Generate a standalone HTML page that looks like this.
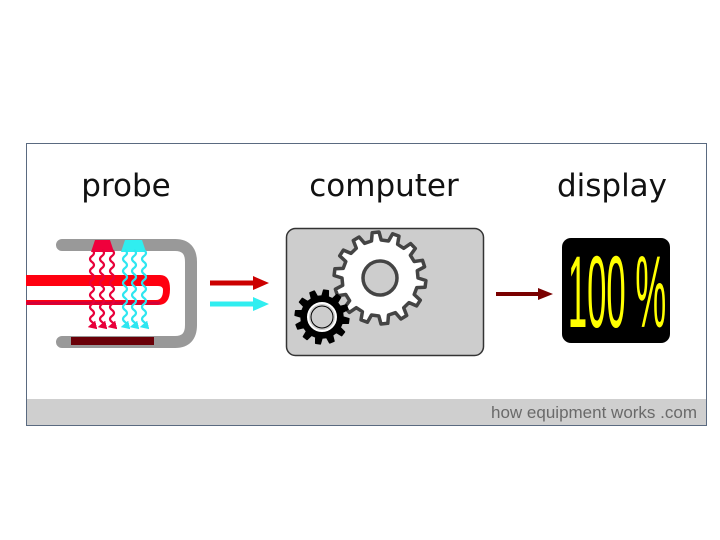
<!DOCTYPE html>
<html><head><style>
html,body{margin:0;padding:0;background:#fff;width:720px;height:540px;overflow:hidden}
</style></head><body>
<svg width="720" height="540" viewBox="0 0 720 540" xmlns="http://www.w3.org/2000/svg">
<defs>
<marker id="ar" markerWidth="4" markerHeight="4" refX="2" refY="2" orient="auto"><path d="M0,0L4,2L0,4z" fill="#e8003a"/></marker>
<marker id="ac" markerWidth="4" markerHeight="4" refX="2" refY="2" orient="auto"><path d="M0,0L4,2L0,4z" fill="#2ee6f0"/></marker>
</defs>
<rect x="26.5" y="143.5" width="680" height="282" fill="#fff" stroke="#5a6a80"/>
<rect x="27" y="399" width="679" height="26" fill="#cfcfcf"/>
<text x="697" y="418" text-anchor="end" font-family="Liberation Sans, sans-serif" font-size="17" fill="#6a6a6a">how equipment works .com</text>
<g font-family="DejaVu Sans, Liberation Sans, sans-serif" font-size="31" fill="#111" text-anchor="middle">
<text x="126" y="196">probe</text><text x="384" y="196">computer</text><text x="612" y="196">display</text></g>
<!-- probe housing -->
<path d="M62,245 H175 Q191,245 191,262 V325 Q191,342 175,342 H62" fill="none" stroke="#999" stroke-width="12" stroke-linecap="round"/>
<rect x="71" y="337" width="83" height="8" fill="#6a0008"/>
<path d="M91,252 l4,-12 h15 l4,12z" fill="#f0003c"/>
<path d="M121,252 l4,-12 h17 l4,12z" fill="#30eef0"/>
<!-- tube -->
<path d="M26,275 H160 Q170,275 170,289 Q170,305 158,305 H26 V300 H156 Q163,300 163,290 Q163,286 158,286 H26z" fill="#ff0010"/>
<path d="M26,303 H160" stroke="#d0003a" stroke-width="3"/>
<g fill="none" stroke-width="2.2">
<g stroke="#e8003a" marker-end="url(#ar)">
<path d="M92,250 q4,3 0,6 q-4,3 0,6 q4,3 0,6 q-4,3 0,6 q4,3 0,6 q-4,3 0,6 q4,3 0,6 q-4,3 0,6 q4,3 0,6 q-4,3 0,6 q4,3 0,6 q-4,3 0,6 q4,3 0,4"/>
<path d="M102,250 q4,3 0,6 q-4,3 0,6 q4,3 0,6 q-4,3 0,6 q4,3 0,6 q-4,3 0,6 q4,3 0,6 q-4,3 0,6 q4,3 0,6 q-4,3 0,6 q4,3 0,6 q-4,3 0,6 q4,3 0,4"/>
<path d="M112,250 q4,3 0,6 q-4,3 0,6 q4,3 0,6 q-4,3 0,6 q4,3 0,6 q-4,3 0,6 q4,3 0,6 q-4,3 0,6 q4,3 0,6 q-4,3 0,6 q4,3 0,6 q-4,3 0,6 q4,3 0,4"/></g>
<g stroke="#2ee6f0" marker-end="url(#ac)">
<path d="M125,250 q4,3 0,6 q-4,3 0,6 q4,3 0,6 q-4,3 0,6 q4,3 0,6 q-4,3 0,6 q4,3 0,6 q-4,3 0,6 q4,3 0,6 q-4,3 0,6 q4,3 0,6 q-4,3 0,6 q4,3 0,4"/>
<path d="M134,250 q4,3 0,6 q-4,3 0,6 q4,3 0,6 q-4,3 0,6 q4,3 0,6 q-4,3 0,6 q4,3 0,6 q-4,3 0,6 q4,3 0,6 q-4,3 0,6 q4,3 0,6 q-4,3 0,6 q4,3 0,4"/>
<path d="M144,250 q4,3 0,6 q-4,3 0,6 q4,3 0,6 q-4,3 0,6 q4,3 0,6 q-4,3 0,6 q4,3 0,6 q-4,3 0,6 q4,3 0,6 q-4,3 0,6 q4,3 0,6 q-4,3 0,6 q4,3 0,4"/></g>
</g>
<!-- arrows -->
<path d="M210,283 H255" stroke="#cc0000" stroke-width="5"/><path d="M253,276 L269,283 L253,290z" fill="#cc0000"/>
<path d="M210,304 H255" stroke="#30eef0" stroke-width="5"/><path d="M253,297 L269,304 L253,311z" fill="#30eef0"/>
<path d="M496,294 H540" stroke="#7a0000" stroke-width="4"/><path d="M538,288 L553,294 L538,300z" fill="#7a0000"/>
<!-- computer -->
<rect x="286.5" y="228.5" width="197" height="127" rx="9" fill="#cdcdcd" stroke="#333" stroke-width="1.5"/>
<path id="g1" d="" fill="#fff" stroke="#444" stroke-width="3.5" stroke-linejoin="round"/>
<circle cx="380" cy="278" r="17" fill="#cdcdcd" stroke="#444" stroke-width="3.5"/>
<path id="g2" d="" fill="#000" stroke="#000" stroke-width="1.5" stroke-linejoin="round"/>
<circle cx="322" cy="317" r="14" fill="#cdcdcd" stroke="#fff" stroke-width="2"/>
<circle cx="322" cy="317" r="11" fill="none" stroke="#000" stroke-width="1"/>
<!-- display -->
<rect x="562" y="238" width="108" height="105" rx="9" fill="#000"/>
<text transform="translate(617,327) scale(0.34,1)" text-anchor="middle" font-family="Liberation Sans, sans-serif" font-size="102" fill="#ffff00">100 %</text>
</svg>
<script>
function gear(cx,cy,ro,ri,n){var d="",s=2*Math.PI/n;for(var i=0;i<n;i++){var a=i*s;var pts=[[ri,a],[ro,a+s*0.12],[ro,a+s*0.45],[ri,a+s*0.57]];pts.forEach(function(p,j){d+=(i==0&&j==0?"M":"L")+(cx+p[0]*Math.cos(p[1])).toFixed(1)+","+(cy+p[0]*Math.sin(p[1])).toFixed(1);});}return d+"Z";}
document.getElementById("g1").setAttribute("d",gear(380,278,46,38,14));
document.getElementById("g2").setAttribute("d",gear(322,317,27,21,12));
</script>
</body></html>
